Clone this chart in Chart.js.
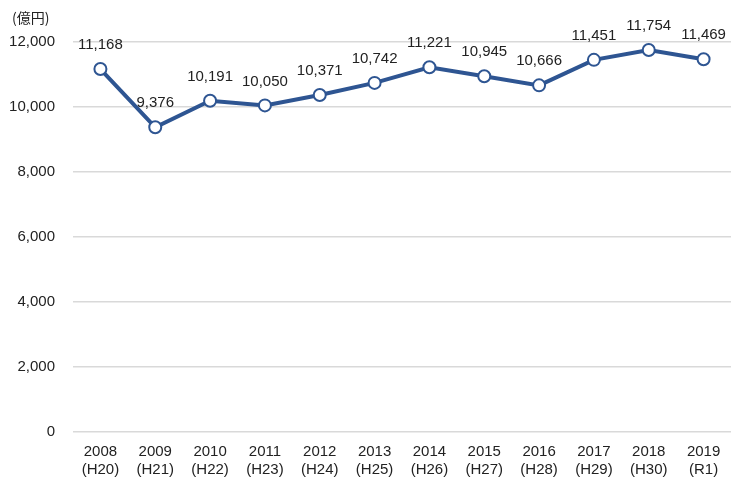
<!DOCTYPE html>
<html>
<head>
<meta charset="utf-8">
<script src="https://cdn.jsdelivr.net/npm/chart.js@4"></script>
<style>
  html, body { margin: 0; padding: 0; background: #fff; }
  #wrap { width: 731px; height: 483px; }
</style>
</head>
<body>
<div id="wrap"><canvas id="salesChart" width="731" height="483"></canvas></div>
<script>
// 年度と和暦
const years = ['2008', '2009', '2010', '2011', '2012', '2013', '2014', '2015', '2016', '2017', '2018', '2019'];
const eras = ['(H20)', '(H21)', '(H22)', '(H23)', '(H24)', '(H25)', '(H26)', '(H27)', '(H28)', '(H29)', '(H30)', '(R1)'];
// 金額（億円）
const amounts = [11168, 9376, 10191, 10050, 10371, 10742, 11221, 10945, 10666, 11451, 11754, 11469];
const yTicks = [0, 2000, 4000, 6000, 8000, 10000, 12000];

const FONT = '"Liberation Sans", "Noto Sans CJK JP", sans-serif';
const LINE_COLOR = '#2e5592';

// 点の上に値を描く
const valueLabels = {
    id: 'valueLabels',
    afterDatasetsDraw(chart) {
        const ctx = chart.ctx;
        const meta = chart.getDatasetMeta(0);
        ctx.save();
        ctx.font = '15px ' + FONT;
        ctx.fillStyle = '#222';
        ctx.textAlign = 'center';
        ctx.textBaseline = 'middle';
        meta.data.forEach((pt, i) => {
            ctx.fillText(amounts[i].toLocaleString('en-US'), pt.x, pt.y - 24);
        });
        // 単位
        ctx.textAlign = 'left';
        ctx.font = '14px "Noto Sans CJK JP", sans-serif';
        ctx.fillText('(億円)', 12, 18);
        ctx.restore();
    }
};

new Chart(document.getElementById('salesChart'), {
    type: 'line',
    data: {
        labels: years.map((y, i) => [y, eras[i]]),
        datasets: [{
            data: amounts,
            borderColor: LINE_COLOR,
            borderWidth: 4,
            pointRadius: 6,
            pointBorderWidth: 2,
            pointBackgroundColor: '#fff',
            pointBorderColor: LINE_COLOR,
            tension: 0
        }]
    },
    options: {
        responsive: false,
        animation: false,
        layout: { autoPadding: false, padding: { top: 42, right: -3, left: 0, bottom: 0 } },
        plugins: {
            legend: { display: false },
            tooltip: { enabled: false }
        },
        scales: {
            x: {
                offset: true,
                grid: { display: false },
                border: { display: false },
                ticks: {
                    color: '#222',
                    font: { family: FONT, size: 15 },
                    padding: 3,
                    maxRotation: 0,
                    autoSkip: false
                },
                afterFit(scale) {
                    scale.height = 51;
                    scale.paddingLeft = 0;
                    scale.paddingRight = 0;
                }
            },
            y: {
                min: 0,
                max: 12000,
                afterBuildTicks(scale) { scale.ticks = yTicks.map(v => ({ value: v })); },
                grid: { color: '#d9d9d9', lineWidth: 1.5, drawTicks: false },
                border: { display: false },
                ticks: {
                    color: '#222',
                    font: { family: FONT, size: 15 },
                    padding: 18,
                    callback: v => v.toLocaleString('en-US')
                },
                afterFit(scale) { scale.width = 73; }
            }
        }
    },
    plugins: [valueLabels]
});
</script>
</body>
</html>
